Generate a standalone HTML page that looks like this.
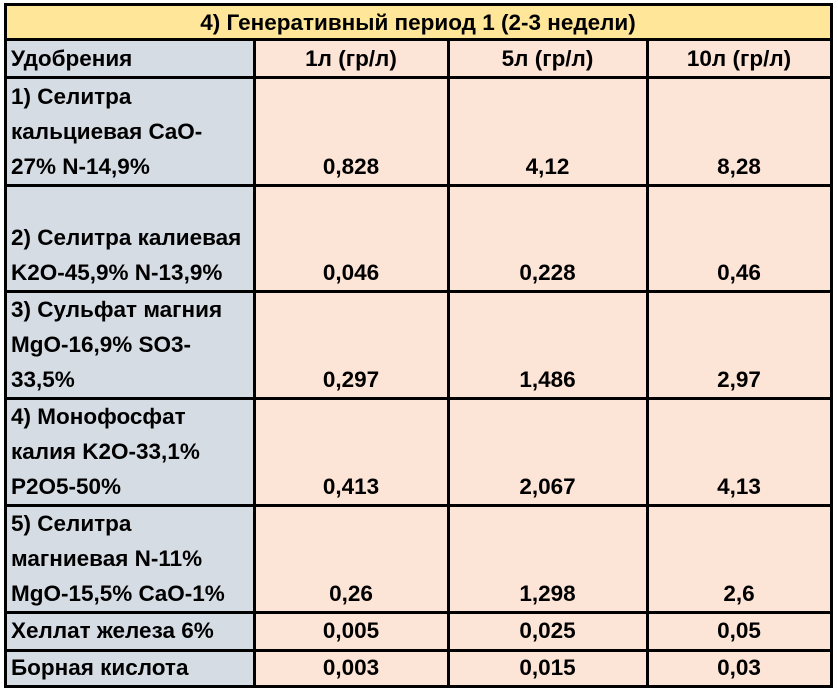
<!DOCTYPE html>
<html><head><meta charset="utf-8"><style>
body{margin:0;width:838px;height:688px;background:#fff;position:relative;overflow:hidden;font-family:"Liberation Sans","DejaVu Sans",sans-serif;font-weight:bold;font-size:22.5px;color:#000}
.c{position:absolute;box-sizing:border-box;display:flex;align-items:flex-end;line-height:35px;padding:0 0 1px 6px;white-space:nowrap}
.l{background:#d6dce4}
.r{background:#fce4d6;justify-content:center;padding-left:0}
.h{position:absolute;background:#000}
</style></head><body>
<div class="c" style="left:5px;top:4px;width:826px;height:36px;background:#ffe699;justify-content:center;align-items:center;padding:0">4) Генеративный период 1 (2-3 недели)</div>

<div class="c l" style="left:5px;top:40px;width:249px;height:37px;align-items:center;padding-bottom:0">Удобрения</div>
<div class="c r" style="left:254px;top:40px;width:194px;height:37px;align-items:center">1л (гр/л)</div>
<div class="c r" style="left:448px;top:40px;width:199px;height:37px;align-items:center">5л (гр/л)</div>
<div class="c r" style="left:647px;top:40px;width:184px;height:37px;align-items:center">10л (гр/л)</div>

<div class="c l" style="left:5px;top:77px;width:249px;height:108px">1) Селитра<br>кальциевая CaO-<br>27% N-14,9%</div>
<div class="c r" style="left:254px;top:77px;width:194px;height:108px">0,828</div>
<div class="c r" style="left:448px;top:77px;width:199px;height:108px">4,12</div>
<div class="c r" style="left:647px;top:77px;width:184px;height:108px">8,28</div>

<div class="c l" style="left:5px;top:185px;width:249px;height:106px">2) Селитра калиевая<br>K2O-45,9% N-13,9%</div>
<div class="c r" style="left:254px;top:185px;width:194px;height:106px">0,046</div>
<div class="c r" style="left:448px;top:185px;width:199px;height:106px">0,228</div>
<div class="c r" style="left:647px;top:185px;width:184px;height:106px">0,46</div>

<div class="c l" style="left:5px;top:291px;width:249px;height:107px">3) Сульфат магния<br>MgO-16,9% SO3-<br>33,5%</div>
<div class="c r" style="left:254px;top:291px;width:194px;height:107px">0,297</div>
<div class="c r" style="left:448px;top:291px;width:199px;height:107px">1,486</div>
<div class="c r" style="left:647px;top:291px;width:184px;height:107px">2,97</div>

<div class="c l" style="left:5px;top:398px;width:249px;height:107px">4) Монофосфат<br>калия K2O-33,1%<br>P2O5-50%</div>
<div class="c r" style="left:254px;top:398px;width:194px;height:107px">0,413</div>
<div class="c r" style="left:448px;top:398px;width:199px;height:107px">2,067</div>
<div class="c r" style="left:647px;top:398px;width:184px;height:107px">4,13</div>

<div class="c l" style="left:5px;top:505px;width:249px;height:107px">5) Селитра<br>магниевая N-11%<br>MgO-15,5% CaO-1%</div>
<div class="c r" style="left:254px;top:505px;width:194px;height:107px">0,26</div>
<div class="c r" style="left:448px;top:505px;width:199px;height:107px">1,298</div>
<div class="c r" style="left:647px;top:505px;width:184px;height:107px">2,6</div>

<div class="c l" style="left:5px;top:612px;width:249px;height:38px;align-items:center">Хеллат железа 6%</div>
<div class="c r" style="left:254px;top:612px;width:194px;height:38px;align-items:center">0,005</div>
<div class="c r" style="left:448px;top:612px;width:199px;height:38px;align-items:center">0,025</div>
<div class="c r" style="left:647px;top:612px;width:184px;height:38px;align-items:center">0,05</div>

<div class="c l" style="left:5px;top:650px;width:249px;height:36px;align-items:center">Борная кислота</div>
<div class="c r" style="left:254px;top:650px;width:194px;height:36px;align-items:center">0,003</div>
<div class="c r" style="left:448px;top:650px;width:199px;height:36px;align-items:center">0,015</div>
<div class="c r" style="left:647px;top:650px;width:184px;height:36px;align-items:center">0,03</div>

<div class="h" style="left:4px;top:3px;width:829px;height:3px"></div>
<div class="h" style="left:4px;top:38px;width:829px;height:3px"></div>
<div class="h" style="left:4px;top:76px;width:829px;height:3px"></div>
<div class="h" style="left:4px;top:184px;width:829px;height:3px"></div>
<div class="h" style="left:4px;top:290px;width:829px;height:3px"></div>
<div class="h" style="left:4px;top:397px;width:829px;height:3px"></div>
<div class="h" style="left:4px;top:504px;width:829px;height:3px"></div>
<div class="h" style="left:4px;top:611px;width:829px;height:3px"></div>
<div class="h" style="left:4px;top:649px;width:829px;height:3px"></div>
<div class="h" style="left:4px;top:685px;width:829px;height:3px"></div>
<div class="h" style="left:4px;top:3px;width:3px;height:685px"></div>
<div class="h" style="left:830px;top:3px;width:3px;height:685px"></div>
<div class="h" style="left:253px;top:38px;width:3px;height:650px"></div>
<div class="h" style="left:447px;top:38px;width:3px;height:650px"></div>
<div class="h" style="left:646px;top:38px;width:3px;height:650px"></div>
</body></html>
